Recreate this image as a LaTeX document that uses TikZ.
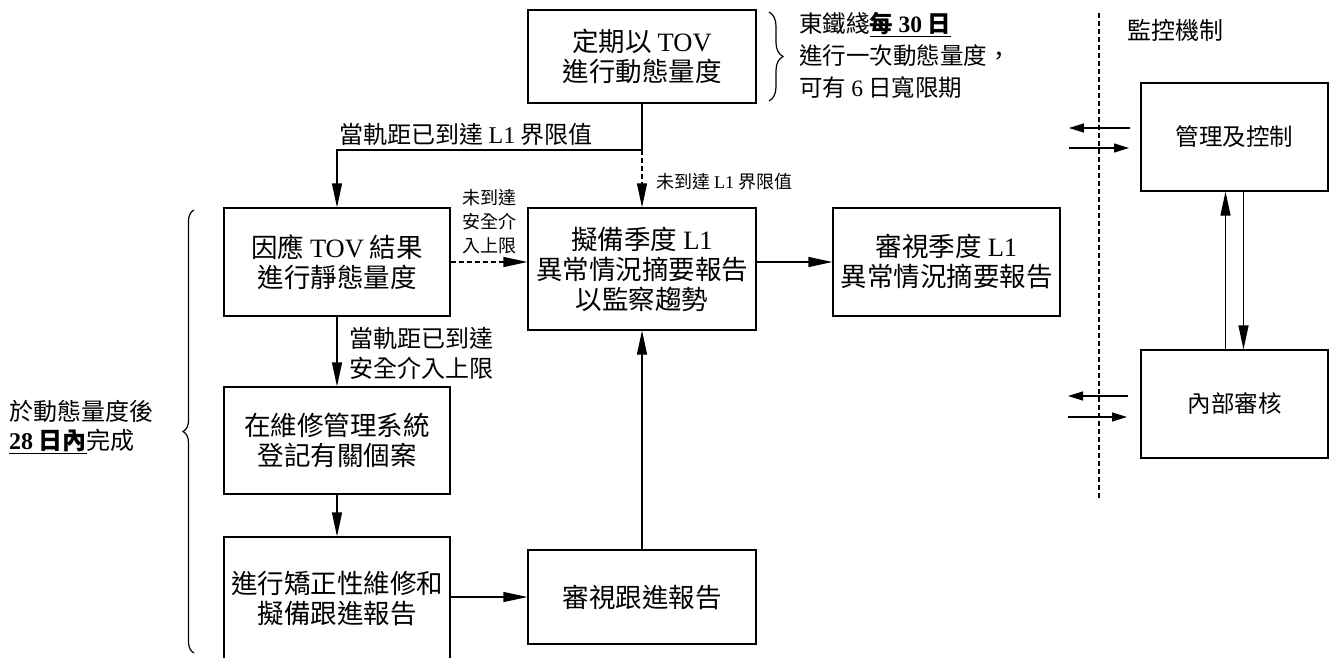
\documentclass[tikz,border=0pt]{standalone}
\usepackage{fontspec}
\setmainfont{Noto Sans CJK TC}
\newfontfamily\ltfont{Liberation Serif}
\newcommand\lat[1]{{\ltfont #1}}
\usetikzlibrary{arrows.meta,decorations.pathreplacing}
\tikzset{
  box/.style={draw, line width=1.2pt, align=center, inner sep=0pt, font=\fontsize{26.5}{30}\selectfont},
  rbox/.style={box, minimum width=187pt, minimum height=108pt, font=\fontsize{23.5}{28}\selectfont},
  lbl/.style={inner sep=0pt, font=\fontsize{24}{30}\selectfont},
  smalllbl/.style={inner sep=0pt, align=center, font=\fontsize{18}{24}\selectfont},
  arr/.style={-{Triangle[length=24pt,width=10pt]}, line width=1.2pt},
  sidearr/.style={-{Triangle[length=15pt,width=9pt]}, line width=1.2pt},
  dashedline/.style={line width=1.2pt, dash pattern=on 5pt off 3pt},
  plain/.style={line width=1.2pt},
  bracestyle/.style={line width=1.2pt, decorate},
}
\begin{document}
\begin{tikzpicture}[x=1pt,y=-1pt]
\useasboundingbox (0,0) rectangle (1330,658);

% boxes
\node[box, minimum width=228pt, minimum height=93pt] (A) at (642,56.5) {定期以 \lat{TOV}\\進行動態量度};
\node[box, minimum width=226pt, minimum height=108pt] (B) at (337,262) {因應 \lat{TOV} 結果\\進行靜態量度};
\node[box, minimum width=228pt, minimum height=122pt] (C) at (642,269) {擬備季度 \lat{L1}\\異常情況摘要報告\\以監察趨勢};
\node[box, minimum width=227pt, minimum height=108pt] (D) at (946.5,262) {審視季度 \lat{L1}\\異常情況摘要報告};
\node[box, minimum width=226pt, minimum height=107pt] (E) at (337,440.5) {在維修管理系統\\登記有關個案};
\node[box, minimum width=226pt, minimum height=124pt] (F) at (337,599) {進行矯正性維修和\\擬備跟進報告};
\node[box, minimum width=228pt, minimum height=94pt] (G) at (642,597) {審視跟進報告};
\node[rbox] (H) at (1234.5,137) {管理及控制};
\node[rbox] (I) at (1234.5,404) {內部審核};

% labels
\node[lbl] (l1) at (466,134) {當軌距已到達 \lat{L1} 界限值};
\node[smalllbl, anchor=west] (l2) at (656,182) {未到達 \lat{L1} 界限值};
\node[smalllbl] (l3) at (489,222) {未到達\\安全介\\入上限};
\node[lbl, align=left, anchor=west] (l4) at (349,353) {當軌距已到達\\安全介入上限};
\node[lbl, align=left, anchor=west, font=\fontsize{23.5}{32}\selectfont] (l5) at (799,55)
  {東鐵綫\underline{\textbf{每 \lat{30} 日}}\\進行一次動態量度，\\可有 \lat{6} 日寬限期};
\node[lbl, anchor=west] (l6) at (1127,30) {監控機制};
\node[lbl, align=left, anchor=west, font=\fontsize{24}{29}\selectfont] (l7) at (9,427)
  {於動態量度後\\\underline{\textbf{\lat{28} 日內}}完成};

% connectors
\coordinate (j) at (A.south |- 0,150);
\draw[plain] (A.south) -- (j);
\draw[arr] (j) -| (B.north);
\draw[arr, dashedline] (j) -- (C.north);
\draw[arr, dashedline] (B.east) -- (B.east -| C.west);
\draw[arr] (B.south) -- (E.north);
\draw[arr] (E.south) -- (F.north);
\draw[arr] (F.east |- G.west) -- (G.west);
\draw[arr] (G.north) -- (C.south);
\draw[arr] (C.east |- D.west) -- (D.west);
\draw[arr] ([xshift=-9pt]I.north) -- ([xshift=-9pt]H.south);
\draw[arr] ([xshift=9pt]H.south) -- ([xshift=9pt]I.north);

% monitoring side
\coordinate (dt) at (1099,13);
\coordinate (db) at (1099,500);
\draw[dashedline] (dt) -- (db);
\coordinate (h1a) at (1130,128); \coordinate (h1b) at (1069,128);
\coordinate (h2a) at (1069,148); \coordinate (h2b) at (1129,148);
\coordinate (i1a) at (1128,396); \coordinate (i1b) at (1068,396);
\coordinate (i2a) at (1068,417); \coordinate (i2b) at (1127,417);
\draw[sidearr] (h1a) -- (h1b);
\draw[sidearr] (h2a) -- (h2b);
\draw[sidearr] (i1a) -- (i1b);
\draw[sidearr] (i2a) -- (i2b);

% braces
\draw[bracestyle, decoration={brace, amplitude=14pt}] (769,12) -- (769,101);
\draw[bracestyle, decoration={brace, amplitude=11pt}] (194,653) -- (194,210);
\end{tikzpicture}
\end{document}
